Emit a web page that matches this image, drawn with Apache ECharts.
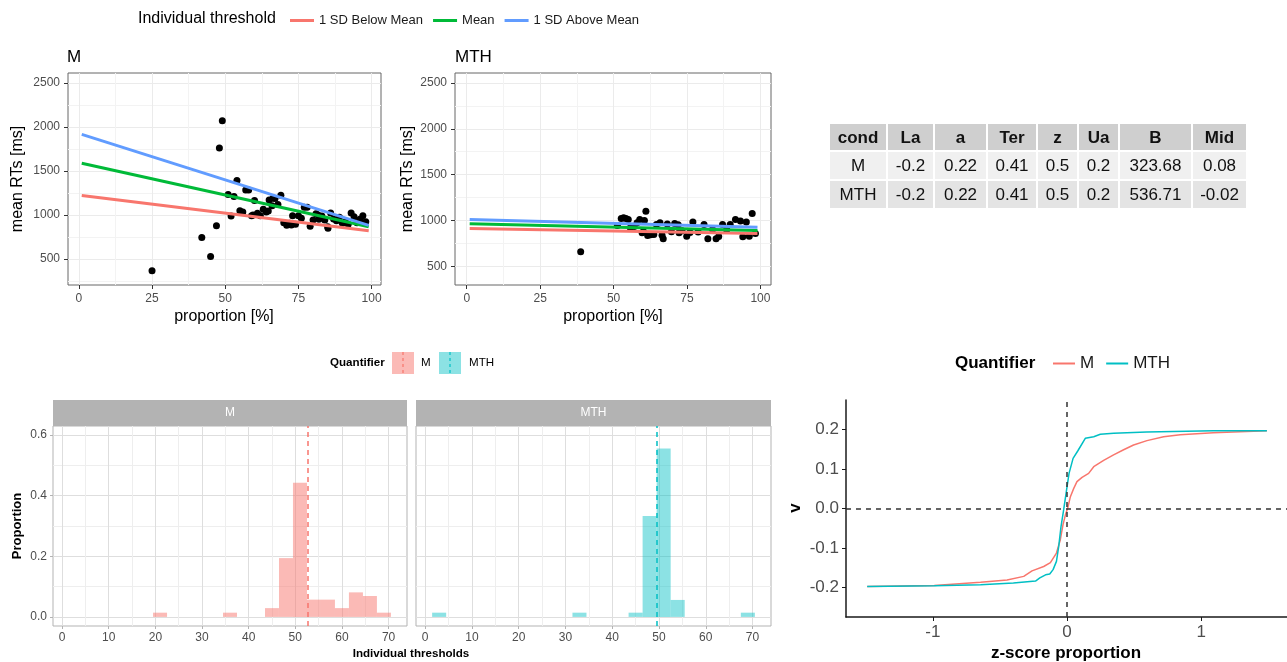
<!DOCTYPE html>
<html>
<head>
<meta charset="utf-8">
<script src="https://cdn.jsdelivr.net/npm/echarts@6.0.0/dist/echarts.min.js"></script>
<style>
  html, body { margin: 0; padding: 0; background: #fff; }
  #chart { width: 1287px; height: 662px; }
</style>
</head>
<body>
<div id="chart"></div>
<script>
// ---- data ----
// top panels: proportion [%] vs mean RTs [ms]
const mProp = [25, 42, 45, 47, 48, 49, 51, 52, 53, 54, 55, 56, 57, 58, 59, 59.5, 60, 61, 62, 63, 64, 64.7, 65, 66, 66.3, 67, 68, 69, 70, 71, 71.5, 72, 72.6, 73, 74, 75, 76, 77, 78, 79, 80, 81, 81.7, 82, 83, 84, 85, 85.1, 86, 87, 88, 89, 90, 91, 92, 93, 94, 95, 95.9, 96, 97, 98];
const mRT = [365, 745, 528, 878, 1760, 2072, 1232, 989, 1209, 1392, 1049, 1034, 1285, 1285, 992, 1000, 1164, 1019, 992, 1065, 1034, 1046, 1171, 1106, 1190, 1186, 1118, 1224, 913, 882, 895, 905, 886, 992, 894, 992, 962, 1087, 1087, 871, 943, 1015, 1000, 951, 989, 943, 867, 848, 1023, 954, 935, 973, 905, 924, 894, 1023, 981, 913, 917, 951, 992, 924];
const mthProp = [38.8, 51.3, 52.6, 53.4, 54.2, 55, 55.7, 57, 58, 58.9, 59.7, 60.2, 60.5, 61, 61.6, 62.6, 63.7, 64.6, 65.8, 66.5, 66.9, 68.3, 69.7, 70.8, 72, 72.3, 73.3, 74.9, 76, 77, 78.8, 80.8, 82.1, 83.7, 84.9, 85.8, 87.1, 88.5, 89.7, 91.5, 93.2, 94, 95.2, 96.2, 97.2, 98.3];
const mthRT = [659, 946, 1022, 1029, 1022, 1011, 920, 935, 975, 1011, 866, 877, 1000, 1101, 837, 845, 848, 956, 975, 840, 801, 962, 877, 967, 953, 866, 887, 829, 870, 982, 873, 955, 800, 902, 800, 825, 955, 900, 956, 1011, 995, 822, 982, 829, 1075, 858];
// fitted lines per individual threshold (start / end)
const fitX = [1, 99];
const thresholdNames = ['1 SD Below Mean', 'Mean', '1 SD Above Mean'];
const mFits = [[1221, 821], [1589, 867], [1916, 882]];
const mthFits = [[912, 858], [965, 890], [1011, 927]];

// parameter table
const tableHeader = ['cond', 'La', 'a', 'Ter', 'z', 'Ua', 'B', 'Mid'];
const tableRows = [
  ['M', '-0.2', '0.22', '0.41', '0.5', '0.2', '323.68', '0.08'],
  ['MTH', '-0.2', '0.22', '0.41', '0.5', '0.2', '536.71', '-0.02']
];

// histograms of individual thresholds (bin centres, bin width 3)
const binWidth = 3;
const histMBins = [21, 36, 45, 48, 51, 54, 57, 60, 63, 66, 69];
const histMProp = [0.014, 0.014, 0.029, 0.194, 0.443, 0.057, 0.057, 0.029, 0.081, 0.069, 0.014];
const histMTHBins = [3, 33, 45, 48, 51, 54, 69];
const histMTHProp = [0.014, 0.014, 0.014, 0.333, 0.556, 0.056, 0.014];
const meanThresholdM = 52.6;
const meanThresholdMTH = 49.6;

// v as a function of z-score proportion
const vMz = [-1.49, -0.99, -0.645, -0.447, -0.323, -0.261, -0.174, -0.124, -0.079, -0.05, -0.03, -0.012, 0.005, 0.025, 0.05, 0.074, 0.112, 0.161, 0.199, 0.273, 0.347, 0.422, 0.496, 0.596, 0.72, 0.844, 1.09, 1.49];
const vMv = [-0.198, -0.195, -0.187, -0.181, -0.172, -0.158, -0.147, -0.137, -0.113, -0.079, -0.041, -0.016, 0.001, 0.030, 0.051, 0.068, 0.079, 0.089, 0.106, 0.122, 0.136, 0.149, 0.161, 0.172, 0.182, 0.187, 0.192, 0.197];
const vMTHz = [-1.49, -0.99, -0.645, -0.4, -0.235, -0.203, -0.16, -0.129, -0.104, -0.079, -0.062, -0.045, -0.025, -0.007, 0.015, 0.045, 0.082, 0.136, 0.199, 0.248, 0.347, 0.594, 1.09, 1.49];
const vMTHv = [-0.198, -0.196, -0.193, -0.189, -0.184, -0.176, -0.168, -0.166, -0.155, -0.134, -0.096, -0.046, -0.003, 0.039, 0.089, 0.127, 0.147, 0.178, 0.182, 0.188, 0.191, 0.194, 0.197, 0.197];

// tick labels
const propTicks = [0, 25, 50, 75, 100];
const propMinor = [12.5, 37.5, 62.5, 87.5];
const rtTicks = [500, 1000, 1500, 2000, 2500];
const rtMinor = [250, 750, 1250, 1750, 2250];
const thrTicks = [0, 10, 20, 30, 40, 50, 60, 70];
const thrMinor = [5, 15, 25, 35, 45, 55, 65];
const histTicks = [0, 0.2, 0.4, 0.6];
const histMinor = [0.1, 0.3, 0.5];
const zTicks = [-1, 0, 1];
const vTicks = [-0.2, -0.1, 0, 0.1, 0.2];

// ---- chart ----
const FONT = '"Liberation Sans", Arial, sans-serif';
const RED = '#F8766D', GREEN = '#00BA38', BLUE = '#619CFF', CYAN = '#00BFC4';
const fitColors = [RED, GREEN, BLUE];
const chart = echarts.init(document.getElementById('chart'));

const zip = (a, b) => a.map((v, i) => [v, b[i]]);

function mainAxis(gridIndex, min, max, ticks, look) {
  return {
    type: 'value', gridIndex: gridIndex, min: min, max: max,
    axisLine: { show: look.line, onZero: false, lineStyle: { color: look.lineColor, width: look.lineWidth } },
    axisTick: { show: look.ticks !== false, length: look.tickLen, customValues: ticks, lineStyle: { color: look.tickColor } },
    axisLabel: {
      show: look.labels !== false, customValues: ticks, color: '#4D4D4D', fontSize: look.fontSize, fontFamily: FONT,
      margin: look.margin, formatter: look.formatter || (v => String(v))
    },
    splitLine: { show: !!look.grid, lineStyle: { color: look.grid, width: 1 } }
  };
}
function minorAxis(gridIndex, min, max, ticks, color) {
  return {
    type: 'value', gridIndex: gridIndex, min: min, max: max,
    axisLine: { show: false, onZero: false }, axisLabel: { show: false },
    axisTick: { show: false, customValues: ticks },
    splitLine: { show: true, lineStyle: { color: color, width: 1 } }
  };
}
const scatterLook = { line: false, tickLen: 4, tickColor: '#333', fontSize: 12, margin: 8, grid: '#EBEBEB' };
const histLook = { line: false, tickLen: 3, tickColor: '#B3B3B3', fontSize: 12, margin: 6, grid: '#DEDEDE' };
const histYLook = Object.assign({}, histLook, { formatter: v => v.toFixed(1) });
const histYLookShared = Object.assign({}, histYLook, { labels: false, ticks: false });
const vLookX = { line: true, lineColor: '#1a1a1a', lineWidth: 1.5, tickLen: 4, tickColor: '#1a1a1a', fontSize: 17, margin: 7 };
const vLookY = Object.assign({}, vLookX, { formatter: v => v.toFixed(1) });

const xAxes = [
  mainAxis(0, -3.7, 103.2, propTicks, scatterLook), minorAxis(0, -3.7, 103.2, propMinor, '#F3F3F3'),
  mainAxis(1, -4.0, 103.6, propTicks, scatterLook), minorAxis(1, -4.0, 103.6, propMinor, '#F3F3F3'),
  mainAxis(2, -1.95, 73.95, thrTicks, histLook), minorAxis(2, -1.95, 73.95, thrMinor, '#EEEEEE'),
  mainAxis(3, -1.95, 73.95, thrTicks, histLook), minorAxis(3, -1.95, 73.95, thrMinor, '#EEEEEE'),
  mainAxis(4, -1.648, 1.64, zTicks, vLookX)
];
const yAxes = [
  mainAxis(0, 204, 2614, rtTicks, scatterLook), minorAxis(0, 204, 2614, rtMinor, '#F3F3F3'),
  mainAxis(1, 296, 2609, rtTicks, scatterLook), minorAxis(1, 296, 2609, rtMinor, '#F3F3F3'),
  mainAxis(2, -0.03, 0.63, histTicks, histYLook), minorAxis(2, -0.03, 0.63, histMinor, '#EEEEEE'),
  mainAxis(3, -0.03, 0.63, histTicks, histYLookShared), minorAxis(3, -0.03, 0.63, histMinor, '#EEEEEE'),
  mainAxis(4, -0.275, 0.275, vTicks, vLookY)
];

const series = [];
// v curves first so the right legend picks them up
series.push({
  type: 'line', name: 'M', xAxisIndex: 8, yAxisIndex: 8, data: zip(vMz, vMv),
  symbol: 'none', lineStyle: { color: RED, width: 1.5 }, itemStyle: { color: RED },
  markLine: {
    silent: true, symbol: 'none', label: { show: false },
    lineStyle: { color: '#333', type: [5, 5], width: 1.5 },
    data: [{ xAxis: 0 }, { yAxis: 0 }]
  }
});
series.push({
  type: 'line', name: 'MTH', xAxisIndex: 8, yAxisIndex: 8, data: zip(vMTHz, vMTHv),
  symbol: 'none', lineStyle: { color: CYAN, width: 1.5 }, itemStyle: { color: CYAN }
});

// scatter panels
[[mProp, mRT, mFits, 0], [mthProp, mthRT, mthFits, 2]].forEach(([px, py, fits, ax]) => {
  series.push({
    type: 'scatter', xAxisIndex: ax, yAxisIndex: ax, data: zip(px, py),
    symbolSize: 7, itemStyle: { color: '#000', opacity: 1 }, z: 3
  });
  fits.forEach((ys, i) => {
    series.push({
      type: 'line', name: thresholdNames[i], xAxisIndex: ax, yAxisIndex: ax, data: zip(fitX, ys),
      symbol: 'none', lineStyle: { color: fitColors[i], width: 3 }, itemStyle: { color: fitColors[i] }, z: 4
    });
  });
});

// histograms
function renderBin(params, api) {
  const x = api.value(0);
  const topLeft = api.coord([x - binWidth / 2, api.value(1)]);
  const bottomRight = api.coord([x + binWidth / 2, 0]);
  return {
    type: 'rect',
    shape: { x: topLeft[0], y: topLeft[1], width: bottomRight[0] - topLeft[0], height: bottomRight[1] - topLeft[1] },
    style: { fill: api.visual('color') }
  };
}
[[histMBins, histMProp, meanThresholdM, RED, 'rgba(248,118,109,0.5)', 4],
 [histMTHBins, histMTHProp, meanThresholdMTH, CYAN, 'rgba(0,191,196,0.45)', 6]].forEach(([bins, props, mean, col, fill, ax]) => {
  series.push({
    type: 'custom', xAxisIndex: ax, yAxisIndex: ax, data: zip(bins, props),
    encode: { x: 0, y: 1 }, renderItem: renderBin, itemStyle: { color: fill }
  });
  series.push({
    type: 'line', xAxisIndex: ax, yAxisIndex: ax, data: [],
    markLine: {
      silent: true, symbol: 'none', label: { show: false },
      lineStyle: { color: col, type: [5, 4], width: 1.5 },
      data: [{ xAxis: mean }]
    }
  });
});

// ---- text, table, strips, legend keys ----
const graphic = [];
function text(str, x, y, size, opts) {
  opts = opts || {};
  graphic.push({
    type: 'text', x: x, y: y, rotation: opts.rotate ? Math.PI / 2 : 0, z: 10,
    style: {
      text: str, fontSize: size, fontFamily: FONT, fontWeight: opts.bold ? 'bold' : 'normal',
      fill: opts.color || '#000', textAlign: opts.align || 'center', textVerticalAlign: 'middle'
    }
  });
}
text('Individual threshold', 138, 19, 16, { align: 'left' });
text('M', 67, 57, 17, { align: 'left' });
text('MTH', 455, 57, 17, { align: 'left' });
text('mean RTs [ms]', 18, 179, 16, { rotate: true });
text('mean RTs [ms]', 408, 179, 16, { rotate: true });
text('proportion [%]', 224, 317, 16);
text('proportion [%]', 613, 317, 16);

// table
const colEdges = [829, 887, 934, 987, 1037, 1078, 1119, 1192, 1247];
const rowEdges = [123, 151, 180, 209];
const rowFills = ['#CFCFCF', '#F0F0F0', '#E4E4E4'];
[tableHeader].concat(tableRows).forEach((row, r) => {
  row.forEach((cell, c) => {
    graphic.push({
      type: 'rect', z: 5,
      shape: { x: colEdges[c] + 1, y: rowEdges[r] + 1, width: colEdges[c + 1] - colEdges[c] - 2, height: rowEdges[r + 1] - rowEdges[r] - 2 },
      style: { fill: rowFills[r] }
    });
    text(cell, (colEdges[c] + colEdges[c + 1]) / 2, (rowEdges[r] + rowEdges[r + 1]) / 2 + 1, 17, { bold: r === 0, color: '#111' });
  });
});

// facet strips
[['M', 53, 354], ['MTH', 416, 355]].forEach(([label, x, w]) => {
  graphic.push({ type: 'rect', z: 5, shape: { x: x, y: 400, width: w, height: 26 }, style: { fill: '#B3B3B3' } });
  text(label, x + w / 2, 413, 12, { color: '#fff' });
});
text('Proportion', 17, 526, 13, { bold: true, rotate: true });
text('Individual thresholds', 411, 654, 11.6, { bold: true });

// histogram legend
text('Quantifier', 330, 363, 11.6, { bold: true, align: 'left' });
[['M', 392, RED, 'rgba(248,118,109,0.5)', 421], ['MTH', 439, CYAN, 'rgba(0,191,196,0.45)', 469]].forEach(([label, x, col, fill, tx]) => {
  graphic.push({ type: 'rect', z: 5, shape: { x: x, y: 352, width: 22, height: 22 }, style: { fill: fill } });
  graphic.push({ type: 'line', z: 6, shape: { x1: x + 11, y1: 352, x2: x + 11, y2: 374 }, style: { stroke: col, lineWidth: 1.2, lineDash: [3, 3] } });
  text(label, tx, 363, 11.6, { align: 'left' });
});

// v plot
text('Quantifier', 955, 363, 17, { bold: true, align: 'left' });
text('v', 795, 508, 17, { bold: true, rotate: true });
text('z-score proportion', 1066, 653, 17, { bold: true });

const gridBox = { show: true, backgroundColor: 'transparent', outerBoundsMode: 'none', containLabel: false };
const option = {
  animation: false,
  textStyle: { fontFamily: FONT },
  grid: [
    Object.assign({ left: 68, top: 73, width: 313, height: 212, borderColor: '#666', borderWidth: 1 }, gridBox),
    Object.assign({ left: 455, top: 73, width: 316, height: 212, borderColor: '#666', borderWidth: 1 }, gridBox),
    Object.assign({ left: 53, top: 426, width: 354, height: 200, borderColor: '#B3B3B3', borderWidth: 1 }, gridBox),
    Object.assign({ left: 416, top: 426, width: 355, height: 200, borderColor: '#B3B3B3', borderWidth: 1 }, gridBox),
    { left: 846, top: 400, right: 0, height: 217, show: false, outerBoundsMode: 'none', containLabel: false }
  ],
  legend: [
    {
      data: thresholdNames, left: 285, top: 9, icon: 'rect', itemWidth: 24, itemHeight: 3, itemGap: 10,
      textStyle: { fontSize: 13, color: '#1a1a1a', fontFamily: FONT }
    },
    {
      data: ['M', 'MTH'], left: 1048, top: 350, icon: 'rect', itemWidth: 22, itemHeight: 2, itemGap: 12,
      textStyle: { fontSize: 17, color: '#1a1a1a', fontFamily: FONT }
    }
  ],
  xAxis: xAxes,
  yAxis: yAxes,
  series: series,
  graphic: graphic
};
chart.setOption(option);
</script>
</body>
</html>
